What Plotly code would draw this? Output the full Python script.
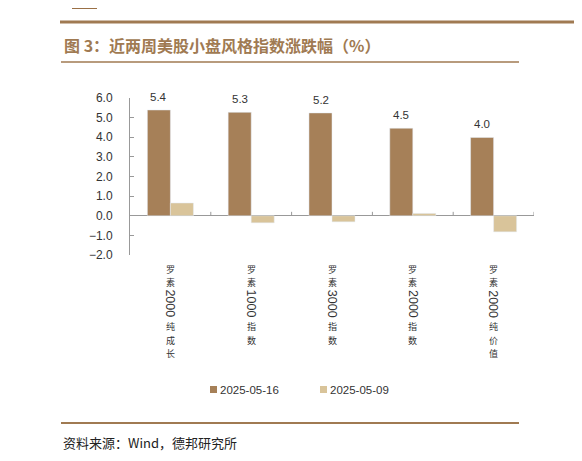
import re
import plotly.graph_objects as go

# 数据
categories = ["罗素2000纯成长", "罗素1000指数", "罗素3000指数", "罗素2000指数", "罗素2000纯价值"]
week_0516 = [5.39, 5.27, 5.24, 4.46, 3.99]
week_0509 = [0.65, -0.36, -0.31, 0.12, -0.82]
series_names = ["2025-05-16", "2025-05-09"]

dark = "#A68058"
light = "#D9C49A"
brown = "#A07A52"

W, H = 582, 461
OFF = 8  # 页面边距
X0, X1, YT, YB = 130 - OFF, 534 - OFF, 98 - OFF, 255 - OFF


def px(x):
    return (x - OFF - X0) / (X1 - X0)


def py(y):
    return (YB - (y - OFF)) / (YB - YT)


fig = go.Figure()
fig.add_trace(go.Bar(x=categories, y=week_0516, name=series_names[0], marker_color=dark))
fig.add_trace(go.Bar(x=categories, y=week_0509, name=series_names[1], marker_color=light))

fig.update_layout(
    width=W, height=H, margin=dict(l=X0, r=W - X1, t=YT, b=H - YB),
    paper_bgcolor="white", plot_bgcolor="white",
    barmode="group", bargap=0.43, bargroupgap=0, showlegend=False,
    font=dict(family="Arial, Liberation Sans", color="#333"),
)
fig.update_xaxes(range=[-0.5, 4.5], showticklabels=False, showline=False,
                 showgrid=False, zeroline=False)
fig.update_yaxes(range=[-2, 6], dtick=1, tickformat=".1f", showgrid=False,
                 showline=True, linecolor="#999", linewidth=1,
                 ticks="inside", ticklen=4, tickcolor="#999",
                 ticklabelstandoff=14, zeroline=True, zerolinecolor="#999",
                 zerolinewidth=1, tickfont=dict(size=12, color="#333"))

shapes = []
annotations = []

# x 轴分隔刻度
for i in range(5):
    shapes.append(dict(type="line", xref="x", yref="y", x0=i + 0.5, x1=i + 0.5,
                       y0=0, y1=0.2, line=dict(color="#999", width=1)))

# 数据标签
for c, v in zip(categories, week_0516):
    annotations.append(dict(text=f"{v:.1f}", x=c, y=v, xref="x", yref="y", xshift=-11.5,
                            yshift=5, showarrow=False, xanchor="center", yanchor="bottom",
                            font=dict(size=11.5, color="#333")))

# 类别标签（竖排）
CJK = 9
STEP = 13.1
for i, name in enumerate(categories):
    cx = px(130 + (534 - 130) / 5 * (i + 0.5))
    y = 262
    for seg in re.findall(r"\d+|\D+", name):
        if seg.isdigit():
            h = len(seg) * 7.3
            annotations.append(dict(text=seg, x=cx, y=py(y + 1 + h / 2), xref="paper", yref="paper",
                                    textangle=90, showarrow=False, xanchor="center", yanchor="middle",
                                    font=dict(size=12.5, color="#333")))
            y += h + 2
        else:
            for ch in seg:
                annotations.append(dict(text=ch, x=cx, y=py(y), xref="paper", yref="paper",
                                        showarrow=False, xanchor="center", yanchor="top", borderpad=0,
                                        font=dict(family="Noto Sans CJK SC", size=CJK, color="#333")))
                y += STEP

# 图例
for nm, col, lx in [(series_names[0], dark, 210), (series_names[1], light, 320)]:
    shapes.append(dict(type="rect", xref="paper", yref="paper", x0=px(lx), x1=px(lx + 7),
                       y0=py(386), y1=py(393), fillcolor=col, line=dict(width=0)))
    annotations.append(dict(text=nm, x=px(lx + 8), y=py(389.5), xref="paper", yref="paper",
                            showarrow=False, xanchor="left", yanchor="middle",
                            font=dict(size=11.5, color="#333")))

# 标题、来源和装饰线
shapes.append(dict(type="rect", xref="paper", yref="paper", x0=px(72), x1=px(97),
                   y0=py(0), y1=py(9), fillcolor="#9A7046", line=dict(width=0)))
shapes.append(dict(type="line", xref="paper", yref="paper", x0=px(60), x1=px(590),
                   y0=py(22), y1=py(22), line=dict(color=brown, width=3)))
shapes.append(dict(type="line", xref="paper", yref="paper", x0=px(61), x1=px(519),
                   y0=py(62), y1=py(62), line=dict(color=brown, width=1.5)))
shapes.append(dict(type="line", xref="paper", yref="paper", x0=px(61), x1=px(519),
                   y0=py(423), y1=py(423), line=dict(color=brown, width=2)))
annotations.append(dict(text="<b>图 3：近两周美股小盘风格指数涨跌幅（%）</b>", x=px(62), y=py(45),
                        xref="paper", yref="paper", showarrow=False, xanchor="left", yanchor="middle",
                        font=dict(family="Noto Sans CJK SC", size=16, color=brown)))
annotations.append(dict(text="资料来源：Wind，德邦研究所", x=px(61), y=py(442),
                        xref="paper", yref="paper", showarrow=False, xanchor="left", yanchor="middle",
                        font=dict(family="Noto Sans CJK SC", size=13, color="#222")))

fig.update_layout(shapes=shapes, annotations=annotations)
fig.write_html("out.html")
